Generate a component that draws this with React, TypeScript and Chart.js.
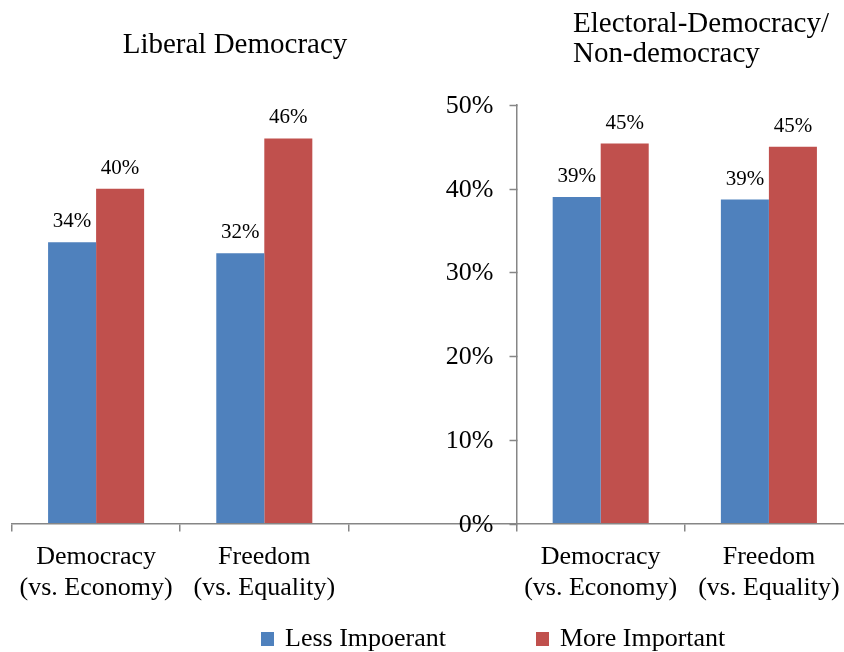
import React, { useEffect, useRef } from "react";
import { Chart, registerables } from "chart.js";

Chart.register(...registerables);

// ---- data ----
const categories: (string | string[])[] = [
  ["Democracy", "(vs. Economy)"],
  ["Freedom", "(vs. Equality)"],
  "",
  ["Democracy", "(vs. Economy)"],
  ["Freedom", "(vs. Equality)"],
];
const seriesNames = ["Less Impoerant", "More Important"];
const lessImportant: (number | null)[] = [33.6, 32.3, null, 39.0, 38.7];
const moreImportant: (number | null)[] = [40.0, 46.0, null, 45.4, 45.0];
const yTickValues = [0, 10, 20, 30, 40, 50];
const leftTitle = ["Liberal Democracy"];
const rightTitle = ["Electoral-Democracy/", "Non-democracy"];

const FAMILY = "'Liberation Serif', 'Times New Roman', serif";
const BLUE = "#4F81BD";
const RED = "#C0504D";
const AXIS = "#868686";
const Y_AXIS_AT = 2.5; // y axis sits between the two panels

const valueLabels = {
  id: "valueLabels",
  afterDatasetsDraw(chart: any) {
    const ctx = chart.ctx;
    ctx.save();
    ctx.font = `21px ${FAMILY}`;
    ctx.fillStyle = "#000";
    ctx.textAlign = "center";
    ctx.textBaseline = "alphabetic";
    chart.data.datasets.forEach((ds: any, i: number) => {
      const meta = chart.getDatasetMeta(i);
      meta.data.forEach((el: any, j: number) => {
        const v = ds.data[j];
        if (v == null) return;
        ctx.fillText(Math.round(v) + "%", el.x, el.y - 15);
      });
    });
    ctx.restore();
  },
};

const yAxisLabels = {
  id: "yAxisLabels",
  afterDraw(chart: any) {
    const ctx = chart.ctx;
    const xs = chart.scales.x;
    const ys = chart.scales.y;
    const ax = Math.round(xs.getPixelForValue(Y_AXIS_AT)) + 0.5;
    ctx.save();
    ctx.strokeStyle = AXIS;
    ctx.lineWidth = 1.5;
    ctx.font = `26px ${FAMILY}`;
    ctx.fillStyle = "#000";
    ctx.textAlign = "right";
    ctx.textBaseline = "middle";
    ys.ticks.forEach((t: any) => {
      const y = Math.round(ys.getPixelForValue(t.value)) + 0.5;
      ctx.beginPath();
      ctx.moveTo(ax - 8, y);
      ctx.lineTo(ax, y);
      ctx.stroke();
      ctx.fillText(t.value + "%", ax - 24, y + 1);
    });
    ctx.restore();
  },
};

const titles = {
  id: "panelTitles",
  afterDraw(chart: any) {
    const ctx = chart.ctx;
    ctx.save();
    ctx.font = `29px ${FAMILY}`;
    ctx.fillStyle = "#000";
    ctx.textBaseline = "alphabetic";
    ctx.textAlign = "center";
    leftTitle.forEach((t, i) => ctx.fillText(t, 235, 53 + i * 30));
    ctx.textAlign = "left";
    rightTitle.forEach((t, i) => ctx.fillText(t, 573, 32 + i * 30));
    ctx.restore();
  },
};

const customLegend = {
  id: "customLegend",
  afterDraw(chart: any) {
    const ctx = chart.ctx;
    const xs = [261, 536];
    ctx.save();
    ctx.font = `26px ${FAMILY}`;
    ctx.textBaseline = "alphabetic";
    ctx.textAlign = "left";
    chart.data.datasets.forEach((ds: any, i: number) => {
      const x = xs[i];
      ctx.fillStyle = ds.backgroundColor;
      ctx.fillRect(x, 632, 13, 14);
      ctx.fillStyle = "#000";
      ctx.fillText(ds.label, x + 24, 645.5);
    });
    ctx.restore();
  },
};

export default function App() {
  const ref = useRef<HTMLCanvasElement | null>(null);
  useEffect(() => {
    if (!ref.current) return;
    const chart = new Chart(ref.current, {
      type: "bar",
      data: {
        labels: categories,
        datasets: [
          { label: seriesNames[0], data: lessImportant, backgroundColor: BLUE },
          { label: seriesNames[1], data: moreImportant, backgroundColor: RED },
        ],
      },
      options: {
        responsive: false,
        animation: false,
        layout: { padding: { left: 12, right: 7, top: 105, bottom: 0 } },
        datasets: { bar: { categoryPercentage: 0.571, barPercentage: 1 } } as any,
        plugins: {
          legend: { display: false },
          title: { display: false },
          tooltip: { enabled: false },
        },
        scales: {
          x: {
            grid: {
              display: true,
              drawOnChartArea: false,
              drawTicks: true,
              tickLength: 8,
              color: AXIS,
              lineWidth: 1.5,
              offset: true,
            },
            border: { display: true, color: AXIS, width: 1.5 },
            ticks: {
              font: { family: FAMILY, size: 26 },
              color: "#000",
              maxRotation: 0,
              autoSkip: false,
              padding: 10,
            },
            afterFit: (s: any) => {
              s.height = 128.5;
            },
          },
          y: {
            position: { x: Y_AXIS_AT } as any,
            min: 0,
            max: 50,
            afterBuildTicks: (s: any) => {
              s.ticks = yTickValues.map((v) => ({ value: v }));
            },
            ticks: { display: false },
            grid: {
              drawOnChartArea: false,
              drawTicks: false,
            },
            border: { display: true, color: AXIS, width: 1.5 },
          },
        },
      },
      plugins: [valueLabels, yAxisLabels, titles, customLegend],
    });
    return () => chart.destroy();
  }, []);

  return (
    <div
      style={{
        position: "absolute",
        left: 0,
        top: 0,
        width: 844,
        height: 652,
        overflow: "hidden",
        background: "#fff",
      }}
    >
      <canvas ref={ref} width={860} height={652} style={{ display: "block" }} />
    </div>
  );
}
